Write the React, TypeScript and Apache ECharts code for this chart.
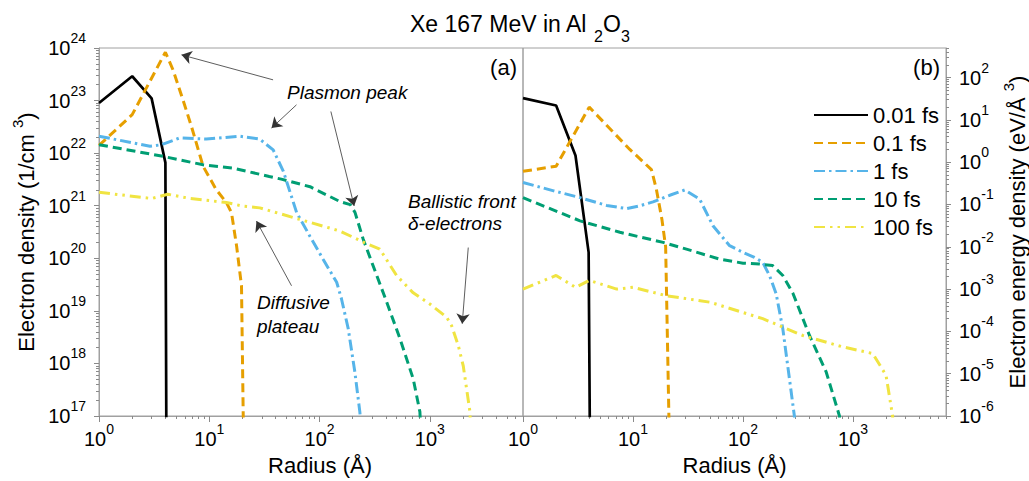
import React, { useEffect, useRef } from "react";
import * as echarts from "echarts";

const FONT = "'Liberation Sans', Arial, Helvetica, sans-serif";

const seriesNames = ["0.01 fs", "0.1 fs", "1 fs", "10 fs", "100 fs"];
const seriesColors = ["#000000", "#E69F00", "#56B4E9", "#009E73", "#F0E442"];
const seriesDash: any[] = ["solid", [9, 5], [11, 4, 2.5, 4], [9, 5], [11, 5, 2.5, 5, 2.5, 5]];

// Panel (a): electron density (1/cm^3) vs radius (Å)
const densT001 = [[1, 9e22], [2, 2.9e23], [3, 1.1e23], [4, 6.6e21], [4.08, 5e16]];
const densT01 = [[1, 1.4e22], [2, 5.4e22], [4, 8.3e23], [4.7, 3.8e23], [5.8, 1e23], [6.9, 3.2e22], [8.8, 5.6e21], [11.6, 2e21], [14.3, 1.15e21], [15.9, 7.4e20], [17.7, 1.7e20], [19.6, 3e19], [20.3, 1.2e17], [20.4, 5e16]];
const densT1 = [[1, 2.1e22], [2.9, 1.35e22], [3.7, 1.45e22], [5.4, 1.95e22], [9.4, 1.85e22], [18.9, 2.1e22], [28.7, 1.85e22], [38, 1.15e22], [47, 4.5e21], [62, 7.4e20], [82, 2.6e20], [108, 9.5e19], [143, 3.5e19], [158, 1.7e19], [182, 4.6e18], [209, 6.9e17], [232, 1.2e17], [240, 5e16]];
const densT10 = [[1, 1.45e22], [3.8, 8.7e21], [8.8, 6e21], [16.4, 5.2e21], [35, 3.6e21], [45, 3.2e21], [82, 2.3e21], [153, 1.2e21], [190, 1.05e21], [210, 7.4e20], [249, 2.3e20], [306, 7.2e19], [405, 1.5e19], [535, 3e18], [707, 5.1e17], [813, 1.2e17], [830, 5e16]];
const densT100 = [[1, 1.8e21], [3, 1.37e21], [4.2, 1.65e21], [6.65, 1.38e21], [14.3, 1.15e21], [20.3, 9.8e20], [28.7, 9.1e20], [66, 5.5e20], [153, 3.3e20], [267, 1.9e20], [352, 1.5e20], [500, 4.7e19], [707, 2.2e19], [1000, 1.35e19], [1420, 7.6e18], [1577, 5.2e18], [1811, 2.2e18], [2010, 9e17], [2312, 1.2e17], [2350, 5e16]];

// Panel (b): electron energy density (eV/Å^3) vs radius (Å)
const enT001 = [[1, 32.7], [2, 21.9], [3, 1.44], [3.95, 0.0074], [4.05, 5e-7]];
const enT01 = [[1, 0.61], [2, 0.8], [4, 20], [9.35, 2.0], [14.7, 0.67], [16.3, 0.23], [18.3, 0.045], [19.8, 0.01], [21.3, 5e-7]];
const enT1 = [[1, 0.33], [1.9, 0.21], [3.3, 0.145], [5.75, 0.095], [8.7, 0.08], [11.5, 0.093], [15.2, 0.115], [21.6, 0.165], [29.5, 0.22], [40.4, 0.133], [53.3, 0.0315], [75.5, 0.0106], [99.8, 0.0074], [127, 0.0056], [151, 0.0043], [174, 0.0021], [200, 7.8e-4], [230, 1.15e-4], [293, 1e-6], [296, 5e-7]];
const enT10 = [[1, 0.145], [3.3, 0.041], [7.6, 0.022], [18.8, 0.0127], [30.6, 0.0088], [61.4, 0.0051], [100, 0.0041], [141, 0.0039], [186, 0.0036], [230, 0.0021], [284, 8e-4], [402, 8e-5], [570, 1.1e-5], [753, 1e-6], [760, 5e-7]];
const enT100 = [[1, 0.001], [2, 0.0021], [3, 0.0011], [4, 0.0016], [7.1, 0.001], [10, 0.0011], [20, 7e-4], [50, 4.9e-4], [151, 2e-4], [349, 8e-5], [806, 4.3e-5], [1510, 3e-5], [1995, 9.2e-6], [2290, 1e-6], [2300, 5e-7]];

const densitySets = [densT001, densT01, densT1, densT10, densT100];
const energySets = [enT001, enT01, enT1, enT10, enT100];

// Axis ticks
const xRange = [1, 7000];
const yLeftRange = [1e17, 1.000001e24];
const yRightRange = [1e-6, 500];
const xMajorTicks = [1, 10, 100, 1000];
const yLeftMajorTicks = [1e17, 1e18, 1e19, 1e20, 1e21, 1e22, 1e23, 1e24];
const yRightMajorTicks = [1e-6, 1e-5, 1e-4, 1e-3, 1e-2, 1e-1, 1, 10, 100];

const minorBetween = (lo: number, hi: number) => {
  const out: number[] = [];
  const start = Math.floor(Math.log10(lo)) - 1;
  const end = Math.ceil(Math.log10(hi));
  for (let e = start; e <= end; e++) {
    for (let m = 2; m <= 9; m++) {
      const v = parseFloat((m * Math.pow(10, e)).toPrecision(6));
      if (v >= lo && v <= hi) out.push(v);
    }
  }
  return out;
};
const xMinorTicks = minorBetween(xRange[0], xRange[1]);
const yLeftMinorTicks = minorBetween(yLeftRange[0], yLeftRange[1]);
const yRightMinorTicks = minorBetween(yRightRange[0], yRightRange[1]);

// Annotation arrows (data coordinates of panel a): [from, to]
const arrowLines = [
  [[37.9, 2.48e23], [5.6, 7.4e23]],
  [[61.8, 8.3e22], [36.7, 3.0e22]],
  [[126.7, 6.2e22], [206, 9.9e20]],
  [[55.7, 3.0e19], [26.8, 5.1e20]],
  [[2232, 1.6e20], [1968, 5.7e18]],
];

const powRich = {
  b: { fontSize: 20, lineHeight: 20, verticalAlign: "bottom", fontFamily: FONT, color: "#000" },
  s: { fontSize: 14, lineHeight: 13, padding: [0, 0, 13, 0], verticalAlign: "bottom", fontFamily: FONT, color: "#000" },
};
const powLabel = (v: number) => `{b|10}{s|${Math.round(Math.log10(v))}}`;

const nameRich = {
  a: { fontSize: 22, lineHeight: 24, verticalAlign: "bottom", fontFamily: FONT, color: "#000" },
  s: { fontSize: 15, lineHeight: 15, padding: [0, 0, 12, 0], verticalAlign: "bottom", fontFamily: FONT, color: "#000" },
};

const AXIS_COLOR = "#a0a0a0";
const TICK_COLOR = "#8a8a8a";

function majorXAxis(gi: number, namePad: number[]) {
  return {
    type: "log", logBase: 10, gridIndex: gi, min: xRange[0], max: xRange[1], position: "bottom",
    name: "Radius (Å)", nameLocation: "middle", nameGap: 38,
    nameTextStyle: { fontSize: 22, fontFamily: FONT, color: "#000", padding: namePad },
    axisLine: { show: true, lineStyle: { color: AXIS_COLOR, width: 1 } },
    axisTick: { show: true, length: 6, customValues: xMajorTicks, lineStyle: { color: TICK_COLOR, width: 1 } },
    minorTick: { show: false },
    axisLabel: { show: true, customValues: xMajorTicks, formatter: powLabel, rich: powRich, margin: 13, showMinLabel: true, showMaxLabel: true },
    splitLine: { show: false },
  };
}
function minorXAxis(gi: number) {
  return {
    type: "log", logBase: 10, gridIndex: gi, min: xRange[0], max: xRange[1], position: "bottom",
    axisLine: { show: false },
    axisTick: { show: true, length: 3, customValues: xMinorTicks, lineStyle: { color: TICK_COLOR, width: 1 } },
    axisLabel: { show: false },
    splitLine: { show: false },
  };
}

export default function App() {
  const ref = useRef<HTMLDivElement>(null);
  useEffect(() => {
    if (!ref.current) return;
    const chart = echarts.init(ref.current, undefined, { renderer: "svg" });
    const series: any[] = [];
    densitySets.forEach((d, i) => {
      const s: any = {
        name: seriesNames[i], type: "line", xAxisIndex: 0, yAxisIndex: 0, data: d,
        showSymbol: false, symbol: "none", clip: true,
        lineStyle: { color: seriesColors[i], width: i === 0 ? 2.7 : 3, type: seriesDash[i] },
        itemStyle: { color: seriesColors[i] },
      };
      if (i === 0) {
        s.markLine = {
          silent: true, symbol: ["none", "arrow"], symbolSize: 10,
          label: { show: false },
          lineStyle: { color: "#333", width: 0.8, type: "solid" },
          data: arrowLines.map(([a, b]) => [{ coord: a }, { coord: b }]),
        };
      }
      series.push(s);
    });
    energySets.forEach((d, i) => {
      series.push({
        name: seriesNames[i], type: "line", xAxisIndex: 2, yAxisIndex: 2, data: d,
        showSymbol: false, symbol: "none", clip: true,
        lineStyle: { color: seriesColors[i], width: i === 0 ? 2.7 : 3, type: seriesDash[i] },
        itemStyle: { color: seriesColors[i] },
      });
    });

    const option: any = {
      animation: false,
      backgroundColor: "#ffffff",
      textStyle: { fontFamily: FONT },
      title: {
        text: "{a|Xe 167 MeV in Al }{s|2}{a|O}{s|3}",
        left: 410, top: 12, padding: 0,
        textStyle: {
          fontWeight: "normal",
          rich: {
            a: { fontSize: 23, lineHeight: 25, fontWeight: "normal", verticalAlign: "top", fontFamily: FONT, color: "#000" },
            s: { fontSize: 16, lineHeight: 16, fontWeight: "normal", padding: [16, 0, 0, 0], verticalAlign: "top", fontFamily: FONT, color: "#000" },
          },
        },
      },
      legend: {
        data: seriesNames, orient: "vertical", left: 813, top: 104, padding: 0,
        itemWidth: 54, itemHeight: 14, itemGap: 6, itemStyle: { opacity: 0 },
        textStyle: { fontSize: 22, lineHeight: 22, fontFamily: FONT, color: "#000" },
        selectedMode: false,
      },
      grid: [
        { left: 99, top: 48, width: 424, height: 370, show: true, borderColor: AXIS_COLOR, borderWidth: 1 },
        { left: 523, top: 48, width: 424, height: 370, show: true, borderColor: AXIS_COLOR, borderWidth: 1 },
      ],
      xAxis: [majorXAxis(0, [0, 0, 0, 18]), minorXAxis(0), majorXAxis(1, [0, 0, 0, 0]), minorXAxis(1)],
      yAxis: [
        {
          type: "log", logBase: 10, gridIndex: 0, min: yLeftRange[0], max: yLeftRange[1], position: "left",
          name: "{a|Electron density (1/cm }{s|3}{a|)}", nameLocation: "middle", nameRotate: 90, nameGap: 62,
          nameTextStyle: { rich: nameRich },
          axisLine: { show: true, lineStyle: { color: AXIS_COLOR, width: 1 } },
          axisTick: { show: true, length: 5, customValues: yLeftMajorTicks, lineStyle: { color: TICK_COLOR } },
          axisLabel: { show: true, customValues: yLeftMajorTicks, formatter: powLabel, rich: powRich, margin: 13, showMinLabel: true, showMaxLabel: true, hideOverlap: false },
          splitLine: { show: false },
        },
        {
          type: "log", logBase: 10, gridIndex: 0, min: yLeftRange[0], max: yLeftRange[1], position: "left",
          axisLine: { show: false },
          axisTick: { show: true, length: 3, customValues: yLeftMinorTicks, lineStyle: { color: TICK_COLOR } },
          axisLabel: { show: false }, splitLine: { show: false },
        },
        {
          type: "log", logBase: 10, gridIndex: 1, min: yRightRange[0], max: yRightRange[1], position: "right",
          name: "{a|Electron energy density (eV/Å }{s|3}{a|)}", nameLocation: "middle", nameRotate: 90, nameGap: 58,
          nameTextStyle: { rich: nameRich },
          axisLine: { show: true, lineStyle: { color: AXIS_COLOR, width: 1 } },
          axisTick: { show: true, length: 5, customValues: yRightMajorTicks, lineStyle: { color: TICK_COLOR } },
          axisLabel: { show: true, customValues: yRightMajorTicks, formatter: powLabel, rich: powRich, margin: 13, showMinLabel: true, showMaxLabel: true },
          splitLine: { show: false },
        },
        {
          type: "log", logBase: 10, gridIndex: 1, min: yRightRange[0], max: yRightRange[1], position: "right",
          axisLine: { show: false },
          axisTick: { show: true, length: 3, customValues: yRightMinorTicks, lineStyle: { color: TICK_COLOR } },
          axisLabel: { show: false }, splitLine: { show: false },
        },
      ],
      graphic: [
        { type: "text", x: 517, y: 67, style: { text: "(a)", fontSize: 22, fontFamily: FONT, fill: "#000", align: "right", verticalAlign: "middle" } },
        { type: "text", x: 940, y: 67, style: { text: "(b)", fontSize: 22, fontFamily: FONT, fill: "#000", align: "right", verticalAlign: "middle" } },
        { type: "text", x: 287, y: 92, style: { text: "Plasmon peak", fontSize: 19, fontStyle: "italic", fontFamily: FONT, fill: "#000", align: "left", verticalAlign: "middle" } },
        { type: "text", x: 408, y: 201, style: { text: "Ballistic front", fontSize: 19, fontStyle: "italic", fontFamily: FONT, fill: "#000", align: "left", verticalAlign: "middle" } },
        { type: "text", x: 408, y: 223, style: { text: "δ-electrons", fontSize: 19, fontStyle: "italic", fontFamily: FONT, fill: "#000", align: "left", verticalAlign: "middle" } },
        { type: "text", x: 257, y: 302, style: { text: "Diffusive", fontSize: 19, fontStyle: "italic", fontFamily: FONT, fill: "#000", align: "left", verticalAlign: "middle" } },
        { type: "text", x: 257, y: 326, style: { text: "plateau", fontSize: 19, fontStyle: "italic", fontFamily: FONT, fill: "#000", align: "left", verticalAlign: "middle" } },
      ],
      series,
    };
    chart.setOption(option);
    return () => chart.dispose();
  }, []);
  return <div ref={ref} style={{ position: "absolute", left: 0, top: 0, width: 1029, height: 481 }} />;
}
